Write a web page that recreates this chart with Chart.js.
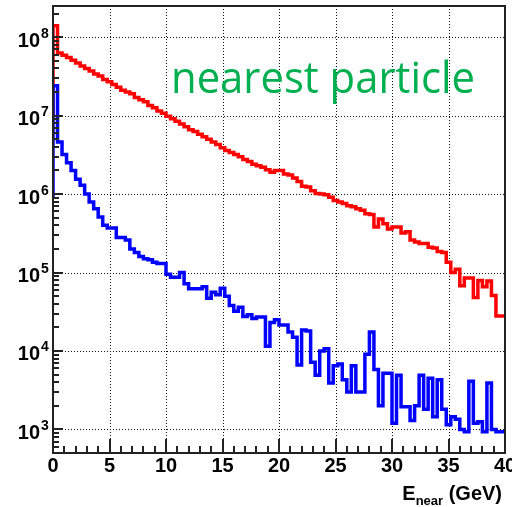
<!DOCTYPE html>
<html>
<head>
<meta charset="utf-8">
<script src="https://cdn.jsdelivr.net/npm/chart.js@4/dist/chart.umd.min.js"></script>
<style>
html, body { margin: 0; padding: 0; background: #fff; }
#wrap { width: 512px; height: 507px; position: relative; }
</style>
</head>
<body>
<div id="wrap"><canvas id="enearHist"></canvas></div>
<script>
// histogram binning: 100 bins of 0.4 GeV from 0 to 40
const binWidth = 0.4;
const nBins = 100;

// red: all particles
const allCounts = [1.0e7, 1.4e8, 6.3e7, 5.9e7, 5.5e7, 5.1e7, 4.7e7, 4.3e7, 4.0e7, 3.7e7,
  3.4e7, 3.2e7, 2.9e7, 2.7e7, 2.5e7, 2.3e7, 2.1e7, 2.0e7, 1.9e7, 1.7e7,
  1.6e7, 1.5e7, 1.35e7, 1.26e7, 1.15e7, 1.07e7, 9.8e6, 9.1e6, 8.5e6, 7.8e6,
  7.2e6, 6.6e6, 6.3e6, 5.8e6, 5.4e6, 5.0e6, 4.6e6, 4.3e6, 3.9e6, 3.6e6,
  3.4e6, 3.2e6, 3.0e6, 2.75e6, 2.6e6, 2.4e6, 2.3e6, 2.2e6, 2.05e6, 1.9e6,
  2.0e6, 2.0e6, 1.8e6, 1.75e6, 1.6e6, 1.45e6, 1.26e6, 1.23e6, 1.1e6, 1.02e6,
  1.0e6, 9.8e5, 9.1e5, 8.3e5, 7.9e5, 7.6e5, 7.1e5, 6.9e5, 6.5e5, 6.2e5,
  5.6e5, 5.5e5, 3.8e5, 4.8e5, 4.2e5, 3.6e5, 3.8e5, 3.8e5, 3.2e5, 3.3e5,
  2.6e5, 2.45e5, 2.35e5, 2.35e5, 2.1e5, 2.05e5, 1.85e5, 1.8e5, 1.35e5, 1.0e5,
  1.1e5, 6.8e4, 8.5e4, 8.5e4, 4.8e4, 7.9e4, 6.6e4, 7.8e4, 5.1e4, 2.8e4];

// blue: nearest particle
const nearestCounts = [9.1e5, 2.4e7, 4.6e6, 3.2e6, 2.5e6, 2.0e6, 1.55e6, 1.3e6, 1.0e6, 7.9e5,
  6.5e5, 5.1e5, 4.0e5, 3.7e5, 3.7e5, 2.8e5, 2.8e5, 2.6e5, 2.0e5, 1.8e5,
  1.6e5, 1.5e5, 1.45e5, 1.35e5, 1.3e5, 1.3e5, 9.5e4, 8.7e4, 8.7e4, 1.0e5,
  7.2e4, 6.2e4, 6.2e4, 6.2e4, 6.6e4, 4.7e4, 5.6e4, 5.2e4, 6.3e4, 5.0e4,
  3.8e4, 3.2e4, 3.6e4, 2.75e4, 2.9e4, 2.6e4, 2.7e4, 2.7e4, 1.15e4, 2.3e4,
  2.5e4, 2.15e4, 2.15e4, 1.75e4, 1.5e4, 6.6e3, 1.85e4, 1.8e4, 7.2e3, 4.9e3,
  1.0e4, 1.07e4, 3.9e3, 6.5e3, 6.8e3, 4.3e3, 3.0e3, 6.5e3, 3.0e3, 3.0e3,
  9.1e3, 1.75e4, 5.8e3, 2.0e3, 5.2e3, 5.2e3, 1.2e3, 4.9e3, 1.95e3, 1.95e3,
  1.3e3, 2.0e3, 4.9e3, 1.8e3, 4.5e3, 1.45e3, 4.3e3, 1.8e3, 1.15e3, 1.45e3,
  1.35e3, 1.0e3, 930, 4.1e3, 1.2e3, 1.25e3, 930, 3.9e3, 1.0e3, 930];

const xTickLabels = ['0', '5', '10', '15', '20', '25', '30', '35', '40'];
const yTickExponents = ['3', '4', '5', '6', '7', '8'];

// step outline: one point per bin low edge, plus the last upper edge
function histPoints(counts) {
  const pts = counts.map((c, i) => ({ x: i * binWidth, y: c }));
  pts.push({ x: nBins * binWidth, y: counts[counts.length - 1] });
  return pts;
}

const FONT = '"Liberation Sans", Arial, sans-serif';

const rootStyle = {
  id: 'rootStyle',
  beforeDatasetsDraw(chart) {
    const { ctx, chartArea: a, scales: { x, y } } = chart;
    ctx.save();
    ctx.strokeStyle = '#111';
    ctx.lineWidth = 1;
    ctx.setLineDash([1, 2]);
    xTickLabels.forEach(t => {
      const v = Number(t);
      if (v <= 0 || v >= 40) return;
      const px = Math.round(x.getPixelForValue(v)) + 0.5;
      ctx.beginPath(); ctx.moveTo(px, a.top); ctx.lineTo(px, a.bottom); ctx.stroke();
    });
    yTickExponents.forEach(e => {
      const py = Math.round(y.getPixelForValue(Math.pow(10, Number(e)))) + 0.5;
      ctx.beginPath(); ctx.moveTo(a.left, py); ctx.lineTo(a.right, py); ctx.stroke();
    });
    ctx.restore();
  },
  afterDatasetsDraw(chart) {
    const { ctx, chartArea: a, scales: { x, y } } = chart;
    ctx.save();
    // frame
    ctx.strokeStyle = '#222';
    ctx.lineWidth = 2;
    ctx.strokeRect(a.left, a.top, a.right - a.left, a.bottom - a.top);

    // x ticks (inside, from the bottom)
    for (let v = 1; v < 40; v++) {
      const px = Math.round(x.getPixelForValue(v));
      const len = v % 5 === 0 ? 14 : 7;
      ctx.beginPath(); ctx.moveTo(px, a.bottom); ctx.lineTo(px, a.bottom - len); ctx.stroke();
    }
    // y ticks (inside, from the left)
    for (let e = 2; e <= 8; e++) {
      for (let m = 1; m <= 9; m++) {
        const v = m * Math.pow(10, e);
        if (v < y.min || v > y.max) continue;
        const py = Math.round(y.getPixelForValue(v));
        const len = m === 1 ? 10 : 6;
        ctx.beginPath(); ctx.moveTo(a.left, py); ctx.lineTo(a.left + len, py); ctx.stroke();
      }
    }

    // x labels
    ctx.fillStyle = '#000';
    ctx.font = 'bold 20px ' + FONT;
    ctx.textAlign = 'center';
    ctx.textBaseline = 'alphabetic';
    xTickLabels.forEach(t => {
      ctx.fillText(t, x.getPixelForValue(Number(t)), 472);
    });

    // y labels 10^n
    yTickExponents.forEach(e => {
      const py = y.getPixelForValue(Math.pow(10, Number(e)));
      ctx.font = 'bold 20px ' + FONT;
      ctx.textAlign = 'right';
      ctx.fillText('10', 40, py + 9.5);
      ctx.font = 'bold 14px ' + FONT;
      ctx.textAlign = 'left';
      ctx.fillText(e, 41, py + 0.5);
    });

    // axis title: E_near (GeV)
    ctx.textAlign = 'left';
    ctx.font = 'bold 20px ' + FONT;
    const wE = ctx.measureText('E').width;
    const wG = ctx.measureText(' (GeV)').width;
    ctx.font = 'bold 13px ' + FONT;
    const wN = ctx.measureText('near').width;
    let tx = 502 - (wE + wN + wG);
    ctx.font = 'bold 20px ' + FONT;
    ctx.fillText('E', tx, 500);
    ctx.font = 'bold 13px ' + FONT;
    ctx.fillText('near', tx + wE, 505);
    ctx.font = 'bold 20px ' + FONT;
    ctx.fillText(' (GeV)', tx + wE + wN, 500);

    // annotation
    ctx.fillStyle = '#00b050';
    ctx.font = '43px "Open Sans", sans-serif';
    ctx.fillText('nearest particle', 171, 93, 304);
    ctx.restore();
  }
};

new Chart('enearHist', {
  type: 'line',
  data: {
    datasets: [{
      label: 'nearest',
      data: histPoints(nearestCounts),
      borderColor: 'rgb(0, 0, 255)',
      borderWidth: 3.5,
      stepped: 'after',
      pointRadius: 0,
      fill: false,
      order: 0
    }, {
      label: 'all',
      data: histPoints(allCounts),
      borderColor: 'rgb(255, 0, 0)',
      borderWidth: 3.5,
      stepped: 'after',
      pointRadius: 0,
      fill: false,
      order: 1
    }]
  },
  options: {
    responsive: true,
    maintainAspectRatio: false,
    animation: false,
    layout: { padding: { top: 6, right: 7, left: 0, bottom: 0 } },
    plugins: { legend: { display: false }, tooltip: { enabled: false } },
    scales: {
      x: {
        type: 'linear', min: 0, max: 40,
        ticks: { display: false },
        grid: { display: false },
        border: { display: false },
        afterFit(s) { s.height = 54; }
      },
      y: {
        type: 'logarithmic', min: 500, max: 2.5e8,
        ticks: { display: false },
        grid: { display: false },
        border: { display: false },
        afterFit(s) { s.width = 53; }
      }
    }
  },
  plugins: [rootStyle]
});
</script>
</body>
</html>
